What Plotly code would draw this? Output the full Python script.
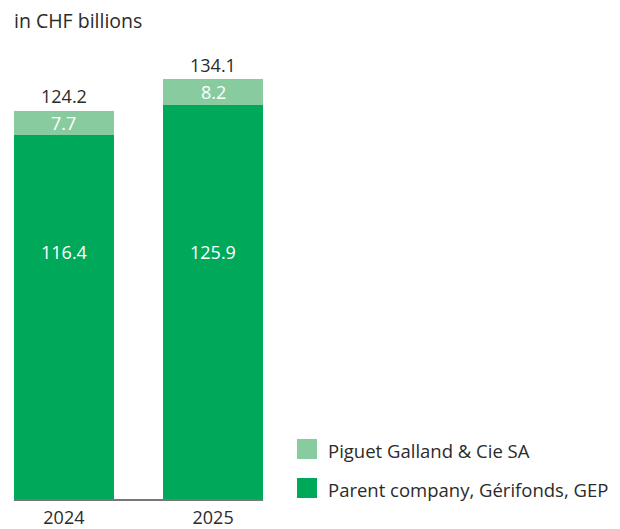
import plotly.graph_objects as go

years = ["2024", "2025"]
parent_company = [116.4, 125.9]
piguet_galland = [7.7, 8.2]
totals = [124.2, 134.1]
series_names = ["Parent company, Gérifonds, GEP", "Piguet Galland & Cie SA"]

DARK = "#00a85a"
LIGHT = "#88cb9e"
TEXT = "#2b2b2b"
FONT = "Open Sans"
FS = 18

# page body has an 8px margin: shift everything by it, let the figure run to the window bottom
OFF = 8
W, H = 620 - 2 * OFF, 529 - OFF
L, R, T, B = 14 - OFF, 357 - OFF, 55 - OFF, 30
plot_w = W - L - R
plot_h = H - T - B


def px_x(x):
    return (x - OFF - L) / plot_w


def px_y(y):
    return (H - B - (y - OFF)) / plot_h


fig = go.Figure()
fig.add_trace(go.Bar(x=years, y=parent_company, name=series_names[0],
                     marker=dict(color=DARK, line=dict(width=0))))
fig.add_trace(go.Bar(x=years, y=piguet_galland, name=series_names[1],
                     marker=dict(color=LIGHT, line=dict(width=0))))

annotations = []
for i, (p, g, t) in enumerate(zip(parent_company, piguet_galland, totals)):
    annotations.append(dict(x=i, y=79, text=f"{p:.1f}", showarrow=False,
                            font=dict(color="white", size=FS, family=FONT)))
    annotations.append(dict(x=i, y=p + g / 2, text=f"{g:.1f}", showarrow=False,
                            font=dict(color="white", size=FS, family=FONT)))
    annotations.append(dict(x=i, y=t, text=f"{t:.1f}", showarrow=False, yanchor="bottom",
                            yshift=0, font=dict(color=TEXT, size=FS, family=FONT)))

annotations.append(dict(xref="paper", yref="paper", x=px_x(12), y=px_y(20), xanchor="left",
                        yanchor="middle", text="in CHF billions", showarrow=False,
                        font=dict(color=TEXT, size=19.5, family=FONT)))

# legend drawn by hand so the swatches keep their size
shapes = []
for name, color, cy in [(series_names[1], LIGHT, 449), (series_names[0], DARK, 488)]:
    shapes.append(dict(type="rect", xref="paper", yref="paper",
                       x0=px_x(297), x1=px_x(317), y0=px_y(cy + 10), y1=px_y(cy - 10),
                       fillcolor=color, line=dict(width=0)))
    annotations.append(dict(xref="paper", yref="paper", x=px_x(326), y=px_y(cy + 1),
                            xanchor="left", yanchor="middle", text=name, showarrow=False,
                            font=dict(color=TEXT, size=18.5, family=FONT)))

fig.update_layout(
    barmode="stack",
    bargap=0.331,
    width=W,
    height=H,
    margin=dict(l=L, r=R, t=T, b=B, autoexpand=False),
    plot_bgcolor="white",
    paper_bgcolor="white",
    showlegend=False,
    annotations=annotations,
    shapes=shapes,
    font=dict(family=FONT, color=TEXT, size=FS),
    xaxis=dict(type="category", range=[-0.3345, 1.3345], showline=True, automargin=False,
               linecolor="#777777", linewidth=1.5, ticks="", ticklabelstandoff=2,
               tickfont=dict(size=FS, color=TEXT), showgrid=False),
    yaxis=dict(range=[0, 141.9], visible=False, showgrid=False, zeroline=False,
               automargin=False),
)

fig.write_html("out.html")
